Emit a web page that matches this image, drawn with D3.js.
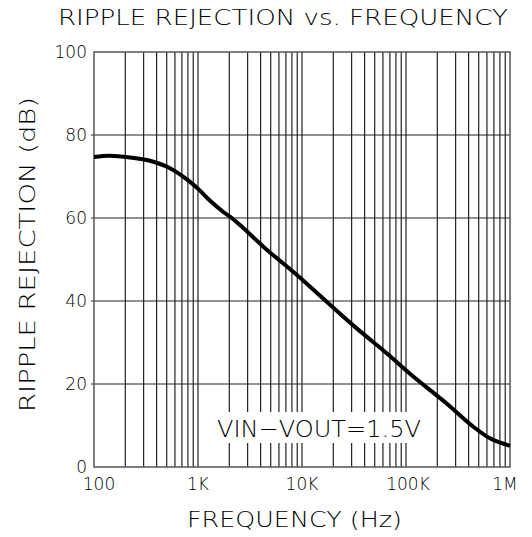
<!DOCTYPE html>
<html>
<head>
<meta charset="utf-8">
<script src="https://cdn.jsdelivr.net/npm/d3@7"></script>
<style>
  html, body { margin: 0; padding: 0; background: #fff; }
  svg { display: block; }
  text { font-family: "DejaVu Sans", "Liberation Sans", sans-serif; font-weight: 300; fill: #000; }
</style>
</head>
<body>
<svg id="chart" width="532" height="537"></svg>
<script>
// ---- data ----
const freqHz = [100, 142, 222, 345, 538, 838, 1045, 1300, 1740, 2185, 2535, 4250, 8890, 17300, 33600, 65200, 117500, 246000, 444000, 642000, 1000000];
const rejectionDb = [74.7, 75.0, 74.6, 73.8, 72.0, 68.7, 66.6, 64.2, 61.5, 59.7, 58.3, 53.1, 46.3, 39.8, 33.4, 27.4, 21.8, 15.3, 9.7, 6.9, 5.1];
const xTickValues = [100, 1000, 10000, 100000, 1000000];
const xTickLabels = ["100", "1K", "10K", "100K", "1M"];
const yTickValues = [0, 20, 40, 60, 80, 100];
const decadeStarts = [100, 1000, 10000, 100000];
const multiples = [1, 2, 3, 4, 5, 6, 7, 8, 9];

const titleText = "RIPPLE REJECTION vs. FREQUENCY";
const xLabelText = "FREQUENCY (Hz)";
const yLabelText = "RIPPLE REJECTION (dB)";
const noteText = "VIN\u2212VOUT=1.5V";

// ---- layout ----
const plotLeft = 94, plotRight = 510, plotTop = 52, plotBottom = 467;
const svg = d3.select("#chart");

const x = d3.scaleLog().domain([100, 1e6]).range([plotLeft, plotRight]);
const y = d3.scaleLinear().domain([0, 100]).range([plotBottom, plotTop]);

const gridG = svg.append("g");
const vGrid = [];
decadeStarts.forEach(d => multiples.forEach(m => vGrid.push(d * m)));
vGrid.push(1e6);

gridG.selectAll("line.v").data(vGrid.filter(v => v > 100 && v < 1e6)).join("line")
  .attr("class", "v")
  .attr("x1", d => x(d)).attr("x2", d => x(d))
  .attr("y1", plotTop).attr("y2", plotBottom)
  .attr("stroke", "#222").attr("stroke-width", 1.2);

gridG.selectAll("line.h").data(yTickValues.filter(v => v > 0 && v < 100)).join("line")
  .attr("class", "h")
  .attr("x1", plotLeft - 3).attr("x2", plotRight)
  .attr("y1", d => y(d)).attr("y2", d => y(d))
  .attr("stroke", "#222").attr("stroke-width", 1.2);

// frame
svg.append("rect")
  .attr("x", plotLeft).attr("y", plotTop)
  .attr("width", plotRight - plotLeft).attr("height", plotBottom - plotTop)
  .attr("fill", "none").attr("stroke", "#555").attr("stroke-width", 1.5);

// note with white background
const noteG = svg.append("g");
const noteBg = noteG.append("rect").attr("fill", "#fff");
const note = noteG.append("text")
  .attr("x", 217).attr("y", 437)
  .attr("font-size", 23)
  .attr("textLength", 204).attr("lengthAdjust", "spacingAndGlyphs")
  .text(noteText);
const bb = note.node().getBBox();
noteBg.attr("x", bb.x - 8).attr("y", 412)
  .attr("width", bb.width + 14).attr("height", 31);

// curve
const line = d3.line()
  .x((d, i) => x(freqHz[i]))
  .y((d, i) => y(rejectionDb[i]))
  .curve(d3.curveMonotoneX);
svg.append("path")
  .datum(freqHz)
  .attr("d", line)
  .attr("fill", "none")
  .attr("stroke", "#000")
  .attr("stroke-width", 4)
  .attr("stroke-linejoin", "round")
  .attr("stroke-linecap", "butt");

// y tick labels
svg.append("g").selectAll("text").data(yTickValues).join("text")
  .attr("x", 87).attr("y", d => y(d))
  .attr("dy", "0.36em")
  .attr("text-anchor", "end")
  .attr("font-size", 17)
  .text(d => String(d));

// x tick labels
const xOffsets = [5, 0, 0, 2, -5];
svg.append("g").selectAll("text").data(xTickValues).join("text")
  .attr("x", (d, i) => x(d) + xOffsets[i]).attr("y", 490)
  .attr("text-anchor", "middle")
  .attr("font-size", 17)
  .text((d, i) => xTickLabels[i]);

// title
svg.append("text")
  .attr("x", 58).attr("y", 25)
  .attr("font-size", 21)
  .attr("textLength", 450).attr("lengthAdjust", "spacingAndGlyphs")
  .text(titleText);

// x label
svg.append("text")
  .attr("x", 187).attr("y", 527)
  .attr("font-size", 21)
  .attr("textLength", 215).attr("lengthAdjust", "spacingAndGlyphs")
  .text(xLabelText);

// y label
svg.append("text")
  .attr("transform", "translate(35,412) rotate(-90)")
  .attr("x", 0).attr("y", 0)
  .attr("font-size", 21)
  .attr("textLength", 315).attr("lengthAdjust", "spacingAndGlyphs")
  .text(yLabelText);
</script>
</body>
</html>
